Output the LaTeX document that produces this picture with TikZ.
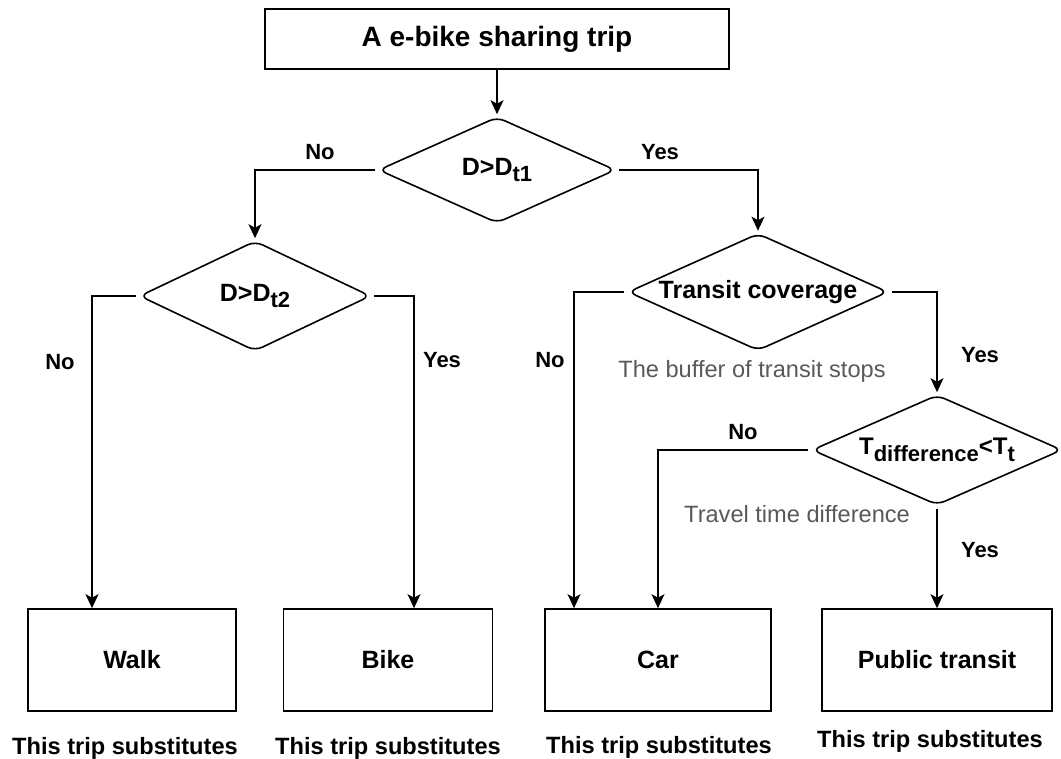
\documentclass[tikz,border=0pt]{standalone}
\usepackage{fontspec}
\setmainfont{Liberation Sans}
\usetikzlibrary{shapes.geometric,arrows.meta}
\tikzset{
  link/.style={line width=1.6pt},
  arrow/.style={link, -{Stealth[length=14pt,width=13pt,inset=3.5pt]}},
  box/.style={draw, link, inner sep=0pt, font=\bfseries\fontsize{25}{30}\selectfont},
  decision/.style={draw, link, diamond, aspect=2.25, rounded corners=8pt, inner sep=0pt,
    font=\bfseries\fontsize{25}{29}\selectfont},
  lab/.style={font=\bfseries\fontsize{22}{26}\selectfont},
  note/.style={font=\fontsize{23.6}{28}\selectfont, text=black!65},
  subst/.style={font=\bfseries\fontsize{23.6}{28}\selectfont}
}
\newcommand{\lowtext}[1]{\raisebox{-6.5pt}{\fontsize{22}{25}\selectfont #1}}
\begin{document}
\begin{tikzpicture}[x=1pt, y=-1pt]
    \useasboundingbox (0,0) rectangle (1061,759);

    % Nút bắt đầu và các nút quyết định
    \node[box, minimum width=464pt, minimum height=60pt, font=\bfseries\fontsize{28}{32}\selectfont] (trip) at (497,39) {A e-bike sharing trip};
    \node[decision, minimum width=237pt, minimum height=106pt] (dist1) at (497,170) {D>D\lowtext{t1}};
    \node[decision, minimum width=231pt, minimum height=110pt] (dist2) at (255,296) {D>D\lowtext{t2}};
    \node[decision, aspect=2.2, minimum width=260pt, minimum height=117pt] (cover) at (758,292) {Transit coverage};
    \node[decision, aspect=2.3, minimum width=250pt, minimum height=110pt, font=\bfseries\fontsize{24}{28}\selectfont] (tdiff) at (937,450) {T\lowtext{difference}<T\lowtext{t}};

    % Các nút kết quả
    \node[box, minimum width=208pt, minimum height=102pt] (walk) at (132,660) {Walk};
    \node[box, minimum width=209pt, minimum height=102pt] (bike) at (388,660) {Bike};
    \node[box, minimum width=226pt, minimum height=102pt] (car) at (658,660) {Car};
    \node[box, minimum width=230pt, minimum height=102pt] (transit) at (937,660) {Public transit};

    % Các mũi tên
    \draw[arrow, shorten >=2pt] (trip.south) -- (dist1.north);
    \draw[arrow, shorten <=3pt, shorten >=2pt] (dist1.west) -| (dist2.north);
    \draw[arrow, shorten <=3pt, shorten >=2pt] (dist1.east) -| (cover.north);
    \draw[arrow, shorten <=3pt] (dist2.west) -| ([xshift=-40pt]walk.north);
    \draw[arrow, shorten <=3pt] (dist2.east) -| ([xshift=26pt]bike.north);
    \draw[arrow, shorten <=3pt] (cover.west) -| ([xshift=-84pt]car.north);
    \draw[arrow, shorten <=3pt, shorten >=2pt] (cover.east) -| (tdiff.north);
    \draw[arrow, shorten <=3pt] (tdiff.west) -| (car.north);
    \draw[arrow, shorten <=3pt] (tdiff.south) -- (transit.north);

    % Nhãn Yes / No
    \node[lab] (no1) at (320,152) {No};
    \node[lab] (yes1) at (660,152) {Yes};
    \node[lab] (no2) at (60,362) {No};
    \node[lab] (yes2) at (442,360) {Yes};
    \node[lab] (no3) at (550,360) {No};
    \node[lab] (yes3) at (980,355) {Yes};
    \node[lab] (no4) at (743,432) {No};
    \node[lab] (yes4) at (980,550) {Yes};

    % Ghi chú
    \node[note] (buffer) at (752,371) {The buffer of transit stops};
    \node[note] (travel) at (797,514) {Travel time difference};
    \node[subst] (s1) at (125,748) {This trip substitutes};
    \node[subst] (s2) at (388,748) {This trip substitutes};
    \node[subst] (s3) at (659,747) {This trip substitutes};
    \node[subst] (s4) at (930,741) {This trip substitutes};
\end{tikzpicture}
\end{document}
